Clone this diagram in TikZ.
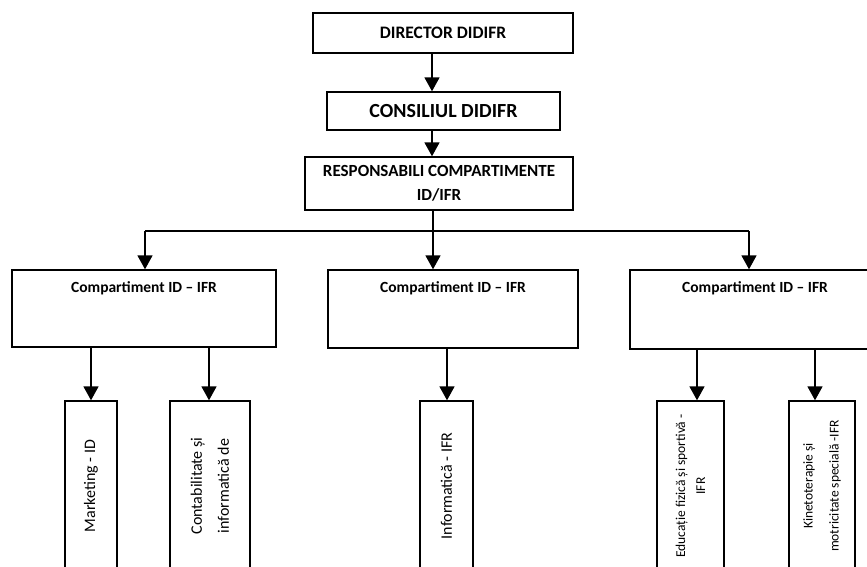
\documentclass[tikz,border=0pt]{standalone}
\usepackage{fontspec}
\setmainfont{Carlito}
\usetikzlibrary{arrows.meta}
\begin{document}
\begin{tikzpicture}[x=1pt,y=-1pt,
  box/.style={draw, line width=1.4pt, rectangle, inner sep=0pt},
  arr/.style={line width=1.7pt, -{Triangle[length=14pt,width=15pt]}},
  ln/.style={line width=1.2pt},
  ctitle/.style={anchor=north, inner sep=0pt, yshift=-12pt, font=\bfseries\fontsize{15.5}{18}\selectfont},
  vt/.style={rotate=90, align=center, inner sep=0pt}]
\useasboundingbox (0,0) rectangle (867,566);
\clip (0,0) rectangle (867,566);
% top chain
\node[box, minimum width=260pt, minimum height=40pt, font=\bfseries\fontsize{17.5}{20}\selectfont] (dir) at (443,33) {DIRECTOR DIDIFR};
\node[box, minimum width=233pt, minimum height=38pt, font=\bfseries\fontsize{20}{24}\selectfont] (cons) at (443.5,111) {CONSILIUL DIDIFR};
\node[box, minimum width=268pt, minimum height=53pt, align=center, font=\bfseries\fontsize{17}{24}\selectfont] (resp) at (439,183.5) {RESPONSABILI COMPARTIMENTE\\ID/IFR};
% compartments
\node[box, minimum width=264pt, minimum height=77pt, label={[ctitle]north:Compartiment ID -- IFR}] (c1) at (144,308.5) {};
\node[box, minimum width=250pt, minimum height=78pt, label={[ctitle]north:Compartiment ID -- IFR}] (c2) at (453,309) {};
\node[box, minimum width=250pt, minimum height=79pt, label={[ctitle]north:Compartiment ID -- IFR}] (c3) at (755,309.5) {};
% children
\node[box, minimum width=52pt, minimum height=170pt, label={[vt, font=\fontsize{16}{27}\selectfont]center:Marketing - ID}] (mk) at (91,486) {};
\node[box, minimum width=80pt, minimum height=170pt, label={[vt, font=\fontsize{16}{27}\selectfont]center:Contabilitate și\\informatică de}] (ct) at (210,486) {};
\node[box, minimum width=53pt, minimum height=170pt, label={[vt, font=\fontsize{16}{27}\selectfont]center:Informatică - IFR}] (inf) at (446.5,486) {};
\node[box, minimum width=67pt, minimum height=170pt, label={[vt, font=\fontsize{13.5}{20}\selectfont]center:Educație fizică și sportivă -\\IFR}] (edu) at (690.5,486) {};
\node[box, minimum width=66pt, minimum height=170pt, label={[vt, font=\fontsize{13.5}{26}\selectfont]center:Kinetoterapie și\\motricitate specială -IFR}] (kin) at (822,486) {};
% connector x positions
\coordinate (xa) at (432,0);
\coordinate (xb) at (433,0);
\coordinate (hl) at (145,231);
\coordinate (hr) at (749,231);
\coordinate (k1) at (91,0);
\coordinate (k2) at (209,0);
\coordinate (k3) at (447,0);
\coordinate (k4) at (697,0);
\coordinate (k5) at (815,0);
% connectors
\draw[arr] (dir.south -| xa) -- (cons.north -| xa);
\draw[arr] (cons.south -| xa) -- (resp.north -| xa);
\draw[arr] (resp.south -| xb) -- (c2.north -| xb);
\draw[ln] (hl) -- (hr);
\draw[arr] (hl) -- (c1.north -| hl);
\draw[arr] (hr) -- (c3.north -| hr);
\draw[arr] (c1.south -| k1) -- (mk.north -| k1);
\draw[arr] (c1.south -| k2) -- (ct.north -| k2);
\draw[arr] (c2.south -| k3) -- (inf.north -| k3);
\draw[arr] (c3.south -| k4) -- (edu.north -| k4);
\draw[arr] (c3.south -| k5) -- (kin.north -| k5);
\end{tikzpicture}
\end{document}
